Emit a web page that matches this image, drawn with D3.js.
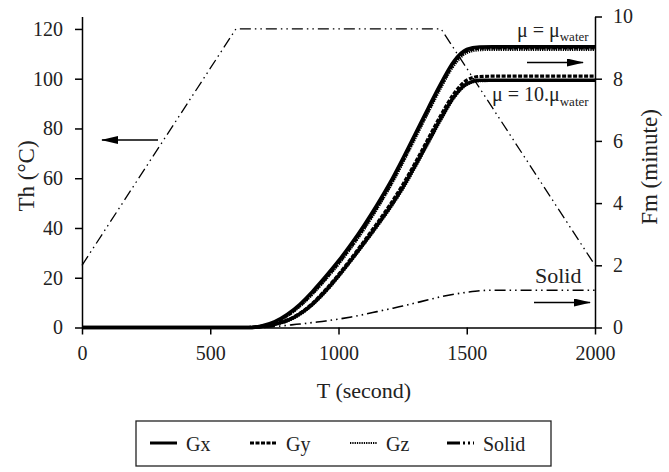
<!DOCTYPE html>
<html>
<head>
<meta charset="utf-8">
<script src="https://cdn.jsdelivr.net/npm/d3@7"></script>
<style>
  body { margin: 0; background: #fff; }
  text { font-family: 'Liberation Serif', 'Times New Roman', serif; fill: #222; }
  .axis path, .axis line { stroke: #000; stroke-width: 1.5; }
  .axis text { font-size: 20px; font-family: 'Liberation Serif', 'Times New Roman', serif; fill: #222; }
</style>
</head>
<body>
<script>
// time points (s) shared by the Fm curves
var timeS = [0, 600, 650, 700, 750, 800, 850, 900, 950, 1000, 1050, 1100, 1150, 1200, 1250, 1300, 1350, 1400, 1450, 1500, 1550, 1600, 2000];

// mu = mu_water
var gxWater = [0, 0, 0, 0.05, 0.18, 0.42, 0.75, 1.17, 1.64, 2.14, 2.69, 3.29, 3.94, 4.64, 5.42, 6.24, 7.06, 7.86, 8.56, 8.94, 9.02, 9.03, 9.03];
var gyWater = [0, 0, 0, 0.04, 0.16, 0.39, 0.71, 1.12, 1.58, 2.08, 2.62, 3.22, 3.87, 4.57, 5.35, 6.17, 6.99, 7.79, 8.5, 8.89, 8.98, 8.99, 8.99];
var gzWater = [0, 0, 0, 0.04, 0.15, 0.37, 0.69, 1.09, 1.55, 2.04, 2.58, 3.17, 3.82, 4.52, 5.29, 6.11, 6.93, 7.73, 8.44, 8.84, 8.93, 8.94, 8.94];

// mu = 10.mu_water
var gx10 = [0, 0, 0, 0.03, 0.1, 0.22, 0.44, 0.76, 1.18, 1.66, 2.18, 2.72, 3.28, 3.86, 4.5, 5.22, 5.98, 6.74, 7.42, 7.84, 7.95, 7.95, 7.95];
var gy10 = [0, 0, 0, 0.03, 0.11, 0.24, 0.46, 0.79, 1.22, 1.7, 2.23, 2.78, 3.35, 3.94, 4.59, 5.31, 6.08, 6.84, 7.52, 7.95, 8.07, 8.08, 8.08];
var gz10 = [0, 0, 0, 0.03, 0.1, 0.21, 0.42, 0.74, 1.15, 1.63, 2.15, 2.69, 3.24, 3.82, 4.45, 5.17, 5.93, 6.69, 7.38, 7.81, 7.93, 7.94, 7.94];

// solid fraction curve
var solidT = [0, 700, 750, 800, 850, 900, 950, 1000, 1050, 1100, 1150, 1200, 1250, 1300, 1350, 1400, 1450, 1500, 1550, 1600, 2000];
var solidV = [0, 0, 0.03, 0.07, 0.11, 0.16, 0.21, 0.27, 0.34, 0.42, 0.51, 0.6, 0.69, 0.79, 0.89, 0.99, 1.07, 1.13, 1.18, 1.2, 1.2];

// heater temperature Th
var tempT = [0, 600, 1400, 2000];
var tempV = [25, 120, 120, 25];

var xTicks = [0, 500, 1000, 1500, 2000];
var thTicks = [0, 20, 40, 60, 80, 100, 120];
var fmTicks = [0, 2, 4, 6, 8, 10];

var w = 669, h = 472;
var padL = 82, padR = 595, padT = 16.5, padB = 327.5;

var svg = d3.select('body').append('svg')
  .attr('width', w)
  .attr('height', h);

var xScale = d3.scaleLinear().domain([0, 2000]).range([padL, padR]);
var yTh = d3.scaleLinear().domain([0, 125]).range([padB, padT]);
var yFm = d3.scaleLinear().domain([0, 10]).range([padB, padT]);

var defs = svg.append('defs');
defs.append('marker')
  .attr('id', 'arr')
  .attr('viewBox', '0 0 17 8')
  .attr('refX', 16)
  .attr('refY', 4)
  .attr('markerWidth', 17)
  .attr('markerHeight', 8)
  .attr('markerUnits', 'userSpaceOnUse')
  .attr('orient', 'auto')
  .append('path')
  .attr('d', 'M0,0 L17,4 L0,8 Z')
  .attr('fill', '#000');

function pairs(xs, ys) {
  return xs.map(function(t, i) { return [t, ys[i]]; });
}

var lineFm = d3.line()
  .x(function(d) { return xScale(d[0]); })
  .y(function(d) { return yFm(d[1]); })
  .curve(d3.curveMonotoneX);

var lineTh = d3.line()
  .x(function(d) { return xScale(d[0]); })
  .y(function(d) { return yTh(d[1]); });

var dashDotDot = '11,4,1.5,4,1.5,4';

// temperature (left axis)
svg.append('path')
  .attr('d', lineTh(pairs(tempT, tempV)))
  .attr('fill', 'none')
  .attr('stroke', '#000')
  .attr('stroke-width', 1.3)
  .attr('stroke-dasharray', dashDotDot);

// solid (right axis)
svg.append('path')
  .attr('d', lineFm(pairs(solidT, solidV)))
  .attr('fill', 'none')
  .attr('stroke', '#000')
  .attr('stroke-width', 1.6)
  .attr('stroke-dasharray', dashDotDot);

var styles = {
  Gx: { width: 3.5, dash: null },
  Gy: { width: 3.2, dash: '4,1.5' },
  Gz: { width: 3, dash: '1.3,1' }
};

var fmSeries = [
  { name: 'Gz', values: gzWater },
  { name: 'Gy', values: gyWater },
  { name: 'Gx', values: gxWater },
  { name: 'Gz', values: gz10 },
  { name: 'Gy', values: gy10 },
  { name: 'Gx', values: gx10 }
];

svg.selectAll('.fm')
  .data(fmSeries)
  .enter()
  .append('path')
  .attr('class', 'fm')
  .attr('d', function(d) { return lineFm(pairs(timeS, d.values)); })
  .attr('fill', 'none')
  .attr('stroke', '#000')
  .attr('stroke-width', function(d) { return styles[d.name].width; })
  .attr('stroke-dasharray', function(d) { return styles[d.name].dash; });

// axes
svg.append('g')
  .attr('class', 'axis')
  .attr('transform', 'translate(0,' + padB + ')')
  .call(d3.axisBottom(xScale).tickValues(xTicks).tickFormat(d3.format('d'))
    .tickSize(7).tickSizeOuter(0).tickPadding(11));

svg.append('g')
  .attr('class', 'axis')
  .attr('transform', 'translate(' + padL + ',0)')
  .call(d3.axisLeft(yTh).tickValues(thTicks).tickSize(7).tickSizeOuter(0).tickPadding(12));

svg.append('g')
  .attr('class', 'axis')
  .attr('transform', 'translate(' + padR + ',0)')
  .call(d3.axisRight(yFm).tickValues(fmTicks).tickSize(7).tickSizeOuter(0).tickPadding(11));

// axis titles
svg.append('text')
  .attr('x', 364)
  .attr('y', 398)
  .attr('text-anchor', 'middle')
  .attr('font-size', '22px')
  .text('T (second)');

svg.append('text')
  .attr('transform', 'translate(34,176) rotate(-90)')
  .attr('text-anchor', 'middle')
  .attr('font-size', '23px')
  .text('Th (°C)');

svg.append('text')
  .attr('transform', 'translate(657,167) rotate(-90)')
  .attr('text-anchor', 'middle')
  .attr('font-size', '23px')
  .text('Fm (minute)');

// annotations
var muTop = svg.append('text').attr('x', 517).attr('y', 37).attr('font-size', '20px');
muTop.append('tspan').text('μ = μ');
muTop.append('tspan').attr('dy', 4).attr('font-size', '13px').text('water');

var muBot = svg.append('text').attr('x', 492).attr('y', 101).attr('font-size', '20px');
muBot.append('tspan').text('μ = 10.μ');
muBot.append('tspan').attr('dy', 5).attr('font-size', '13px').text('water');

svg.append('text')
  .attr('x', 535)
  .attr('y', 283)
  .attr('font-size', '22px')
  .text('Solid');

function arrow(x1, y1, x2, y2) {
  svg.append('line')
    .attr('x1', x1).attr('y1', y1)
    .attr('x2', x2).attr('y2', y2)
    .attr('stroke', '#000')
    .attr('stroke-width', 1.5)
    .attr('marker-end', 'url(#arr)');
}
arrow(527, 62.5, 583, 62.5);
arrow(534, 302.5, 590, 302.5);
arrow(158, 140, 102, 140);

// legend
var legend = svg.append('g');
legend.append('rect')
  .attr('x', 136).attr('y', 421)
  .attr('width', 415).attr('height', 45)
  .attr('fill', 'none')
  .attr('stroke', '#222')
  .attr('stroke-width', 1.3);

var legendItems = [
  { label: 'Gx', x: 150, width: 3, dash: null },
  { label: 'Gy', x: 250, width: 3, dash: '4,1.5' },
  { label: 'Gz', x: 350, width: 2.2, dash: '1.3,1' },
  { label: 'Solid', x: 447, width: 3, dash: '13,3,2,3,2,3' }
];

legendItems.forEach(function(d) {
  legend.append('line')
    .attr('x1', d.x).attr('x2', d.x + 27)
    .attr('y1', 443).attr('y2', 443)
    .attr('stroke', '#000')
    .attr('stroke-width', d.width)
    .attr('stroke-dasharray', d.dash);
  legend.append('text')
    .attr('x', d.x + 36)
    .attr('y', 451)
    .attr('font-size', '20px')
    .text(d.label);
});
</script>
</body>
</html>
